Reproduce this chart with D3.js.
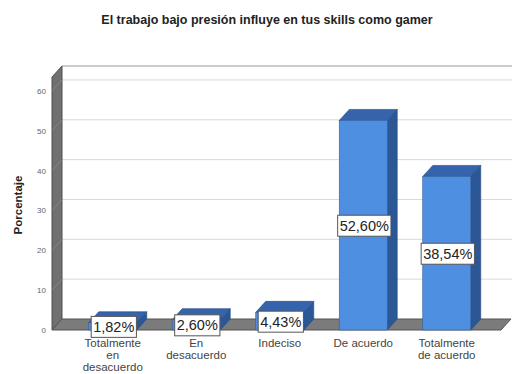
<!DOCTYPE html>
<html>
<head>
<meta charset="utf-8">
<script src="https://cdn.jsdelivr.net/npm/d3@7/dist/d3.min.js"></script>
<style>
  html, body { margin: 0; padding: 0; background: #fff; }
  svg { display: block; font-family: "Liberation Sans", Arial, sans-serif; }
</style>
</head>
<body>
<svg id="chart" width="512" height="374"></svg>
<script>
// Survey answers and their percentages
const categories = ["Totalmente en desacuerdo", "En desacuerdo", "Indeciso", "De acuerdo", "Totalmente de acuerdo"];
const categoryLines = [["Totalmente", "en", "desacuerdo"], ["En", "desacuerdo"], ["Indeciso"], ["De acuerdo"], ["Totalmente", "de acuerdo"]];
const percentages = [1.82, 2.60, 4.43, 52.60, 38.54];
const valueLabels = ["1,82%", "2,60%", "4,43%", "52,60%", "38,54%"];
const yTicks = [0, 10, 20, 30, 40, 50, 60];

const svg = d3.select("#chart");

// 3D depth offset of the back wall relative to the front plane
const dx = 10, dy = -11;
const frontLeft = 52, frontRight = 501;

const y = d3.scaleLinear().domain([0, 63.5]).range([330, 77]);
const x = d3.scaleBand().domain(categories).range([71, 488.5])
  .paddingInner(0.425).paddingOuter(0.2125);

const yMax = y.domain()[1];
const poly = pts => pts.map(p => p.join(",")).join(" ");

// Back wall
svg.append("polygon")
  .attr("points", poly([[frontLeft + dx, y(0) + dy], [frontLeft + dx, y(yMax) + dy], [frontRight + dx + 2, y(yMax) + dy], [frontRight + dx + 2, y(0) + dy]]))
  .attr("fill", "#ffffff");

// Gridlines on the back wall
svg.append("g").selectAll("line").data(yTicks.filter(d => d > 0)).join("line")
  .attr("x1", frontLeft + dx).attr("x2", 512)
  .attr("y1", d => y(d) + dy).attr("y2", d => y(d) + dy)
  .attr("stroke", "#d9d9d9").attr("stroke-width", 1);

// Top edge of the back wall
svg.append("line")
  .attr("x1", frontLeft + dx).attr("x2", 512)
  .attr("y1", y(yMax) + dy).attr("y2", y(yMax) + dy)
  .attr("stroke", "#9a9a9a").attr("stroke-width", 1.2);

// Left wall
svg.append("polygon")
  .attr("points", poly([[frontLeft, y(0)], [frontLeft, y(yMax)], [frontLeft + dx, y(yMax) + dy], [frontLeft + dx, y(0) + dy]]))
  .attr("fill", "#707070").attr("stroke", "#4f4f4f").attr("stroke-width", 1);

// Faint gridlines on the left wall
svg.append("g").selectAll("line").data(yTicks.filter(d => d > 0)).join("line")
  .attr("x1", frontLeft).attr("x2", frontLeft + dx)
  .attr("y1", d => y(d)).attr("y2", d => y(d) + dy)
  .attr("stroke", "#8a8a8a").attr("stroke-width", 0.8);

// Floor
svg.append("polygon")
  .attr("points", poly([[frontLeft, y(0)], [frontRight, y(0)], [frontRight + dx, y(0) + dy], [frontLeft + dx, y(0) + dy]]))
  .attr("fill", "#7b7b7b").attr("stroke", "#555555").attr("stroke-width", 1);

// Y axis tick labels on the front edge
svg.append("g").selectAll("text").data(yTicks).join("text")
  .attr("x", 46).attr("y", d => y(d) + 3)
  .attr("text-anchor", "end")
  .attr("font-size", 8).attr("fill", "#666")
  .text(d => d);

// Bars
const bars = svg.append("g").selectAll("g").data(percentages).join("g");
bars.each(function(v, i) {
  const g = d3.select(this);
  const x0 = x(categories[i]), x1 = x0 + x.bandwidth();
  const yt = y(v), yb = y(0);
  g.append("polygon")
    .attr("points", poly([[x1, yt], [x1 + dx, yt + dy], [x1 + dx, yb + dy], [x1, yb]]))
    .attr("fill", "#2c5797").attr("stroke", "#234a82").attr("stroke-width", 0.6);
  g.append("polygon")
    .attr("points", poly([[x0, yt], [x1, yt], [x1 + dx, yt + dy], [x0 + dx, yt + dy]]))
    .attr("fill", "#3564ad").attr("stroke", "#234a82").attr("stroke-width", 0.6);
  g.append("rect")
    .attr("x", x0).attr("y", yt).attr("width", x.bandwidth()).attr("height", yb - yt)
    .attr("fill", "#4f8fe2").attr("stroke", "#2f5f9f").attr("stroke-width", 0.6);
});

// Value labels in white boxes at the middle of each bar's front face
const labels = svg.append("g").selectAll("g").data(percentages).join("g");
labels.each(function(v, i) {
  const g = d3.select(this);
  const cx = x(categories[i]) + x.bandwidth() / 2 + 1;
  const cy = (y(v) + y(0)) / 2 + 0.5;
  const rect = g.append("rect").attr("fill", "#fff").attr("stroke", "#555").attr("stroke-width", 1);
  const t = g.append("text")
    .attr("x", cx).attr("y", cy + 5)
    .attr("text-anchor", "middle")
    .attr("font-size", 14.5).attr("fill", "#222")
    .text(valueLabels[i]);
  const bb = t.node().getBBox();
  rect.attr("x", bb.x - 2).attr("y", cy - 10.5).attr("width", bb.width + 4).attr("height", 21);
});

// Category labels
const cat = svg.append("g").selectAll("text").data(categories).join("text")
  .attr("text-anchor", "middle")
  .attr("font-size", 11.5).attr("fill", "#444");
cat.each(function(c, i) {
  const cx = x(c) + x.bandwidth() / 2;
  d3.select(this).selectAll("tspan").data(categoryLines[i]).join("tspan")
    .attr("x", cx).attr("y", (d, j) => 347 + j * 12)
    .text(d => d);
});

// Axis title
svg.append("text")
  .attr("transform", "translate(22,205) rotate(-90)")
  .attr("text-anchor", "middle")
  .attr("font-size", 11.5).attr("font-weight", "bold").attr("fill", "#222")
  .text("Porcentaje");

// Chart title
svg.append("text")
  .attr("x", 267).attr("y", 24)
  .attr("text-anchor", "middle")
  .attr("font-size", 12.5).attr("font-weight", "bold").attr("fill", "#222")
  .text("El trabajo bajo presión influye en tus skills como gamer");
</script>
</body>
</html>
